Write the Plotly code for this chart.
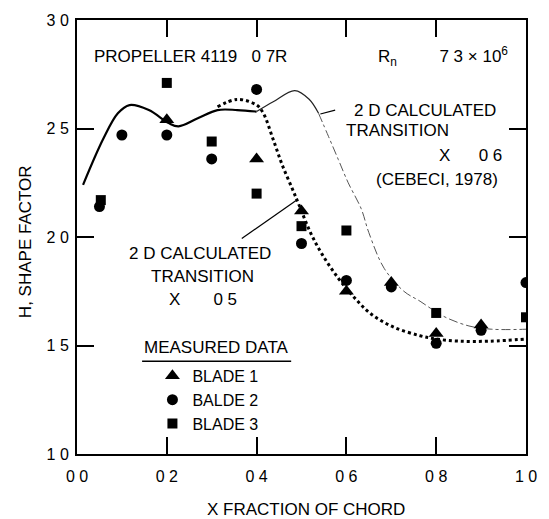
import plotly.graph_objects as go

# ---- data ----
blade1_x = [0.2, 0.4, 0.5, 0.6, 0.7, 0.8, 0.9]
blade1_y = [2.54, 2.36, 2.12, 1.75, 1.79, 1.555, 1.595]

blade2_x = [0.05, 0.1, 0.2, 0.3, 0.4, 0.5, 0.6, 0.7, 0.8, 0.9, 1.0]
blade2_y = [2.14, 2.47, 2.47, 2.36, 2.68, 1.97, 1.80, 1.77, 1.51, 1.57, 1.79]

blade3_x = [0.053, 0.2, 0.3, 0.4, 0.5, 0.6, 0.8, 1.0]
blade3_y = [2.17, 2.71, 2.44, 2.20, 2.05, 2.03, 1.65, 1.63]

# 2-D calculated, transition x = 0.6 (Cebeci 1978)
calc06_x = [0.0135, 0.058, 0.091, 0.117, 0.16, 0.204, 0.226, 0.269, 0.313, 0.357,
            0.40, 0.437, 0.485, 0.517, 0.538, 0.56, 0.582, 0.604, 0.633, 0.65,
            0.684, 0.728, 0.764, 0.815, 0.873, 0.924, 1.0]
calc06_y = [2.24, 2.45, 2.57, 2.608, 2.585, 2.525, 2.51, 2.547, 2.585, 2.585,
            2.578, 2.623, 2.675, 2.635, 2.57, 2.464, 2.357, 2.25, 2.13, 2.02,
            1.856, 1.75, 1.704, 1.636, 1.59, 1.575, 1.575]

# 2-D calculated, transition x = 0.5
calc05_x = [0.313, 0.357, 0.40, 0.415, 0.437, 0.458, 0.48, 0.495, 0.52, 0.546,
            0.582, 0.618, 0.655, 0.705, 0.764, 0.80, 0.85, 0.92, 1.0]
calc05_y = [2.60, 2.634, 2.608, 2.57, 2.449, 2.327, 2.22, 2.145, 2.02, 1.92,
            1.81, 1.72, 1.645, 1.585, 1.545, 1.53, 1.52, 1.52, 1.53]

x_ticks = [0.0, 0.2, 0.4, 0.6, 0.8, 1.0]
x_ticklabels = ["0 0", "0 2", "0 4", "0 6", "0 8", "1 0"]
y_ticks = [1.0, 1.5, 2.0, 2.5, 3.0]
y_ticklabels = ["1 0", "1 5", "2 0", "2 5", "3 0"]

FONT = "Liberation Sans, Arial, Helvetica, sans-serif"
NB = "\u00a0"

fig = go.Figure()

# solid thick part (up to x=0.40), thin solid, then dash-dot
i1 = calc06_x.index(0.40)
i2 = calc06_x.index(0.538)
fig.add_trace(go.Scatter(x=calc06_x[:i1 + 1], y=calc06_y[:i1 + 1], mode="lines",
                         line=dict(color="black", width=2.2, shape="spline"),
                         showlegend=False, hoverinfo="skip"))
fig.add_trace(go.Scatter(x=calc06_x[i1:i2 + 1], y=calc06_y[i1:i2 + 1], mode="lines",
                         line=dict(color="#222", width=1.2, shape="spline"),
                         showlegend=False, hoverinfo="skip"))
fig.add_trace(go.Scatter(x=calc06_x[i2:], y=calc06_y[i2:], mode="lines",
                         line=dict(color="#555", width=1, shape="spline", dash="dashdot"),
                         showlegend=False, hoverinfo="skip"))
fig.add_trace(go.Scatter(x=calc05_x, y=calc05_y, mode="lines",
                         line=dict(color="black", width=3, shape="spline", dash="dot"),
                         showlegend=False, hoverinfo="skip"))

fig.add_trace(go.Scatter(x=blade1_x, y=blade1_y, mode="markers", name="BLADE 1",
                         legendgroup="b1",
                         marker=dict(symbol="triangle-up", size=13, color="black")))
fig.add_trace(go.Scatter(x=blade2_x, y=blade2_y, mode="markers", name="BALDE 2",
                         legendgroup="b2",
                         marker=dict(symbol="circle", size=11, color="black")))
fig.add_trace(go.Scatter(x=blade3_x, y=blade3_y, mode="markers", name="BLADE 3",
                         legendgroup="b3",
                         marker=dict(symbol="square", size=10, color="black")))

axis_common = dict(showline=True, linewidth=2, linecolor="black", mirror="ticks",
                   ticks="inside", tickwidth=2, tickcolor="black", showgrid=False,
                   zeroline=False, tickfont=dict(family=FONT, size=16, color="black"))

fig.update_xaxes(range=[0, 1], tickvals=x_ticks, ticktext=x_ticklabels, ticklen=17,
                 ticklabelstandoff=7, **axis_common)
fig.update_yaxes(range=[1, 3], tickvals=y_ticks, ticktext=y_ticklabels, ticklen=17,
                 ticklabelstandoff=3, **axis_common)

ann = []
def txt(x, y, s, xanchor="left", size=17, xref="x", yref="y", angle=0):
    ann.append(dict(x=x, y=y, xref=xref, yref=yref, text=s, showarrow=False,
                    xanchor=xanchor, yanchor="middle", textangle=angle,
                    font=dict(family=FONT, size=size, color="black")))

txt(0.033, 2.83, "PROPELLER 4119" + NB * 3 + "0 7R")
txt(0.665, 2.83, "R<sub>n</sub>" + NB * 9 + "7 3 × 10<sup>6</sup>")

txt(0.612, 2.585, "2 D CALCULATED")
txt(0.594, 2.49, "TRANSITION")
txt(0.95, 2.374, "X" + NB * 6 + "0 6", xanchor="right")
txt(0.662, 2.265, "(CEBECI, 1978)")

txt(0.273, 1.924, "2 D CALCULATED", xanchor="center")
txt(0.28, 1.818, "TRANSITION", xanchor="center")
txt(0.2, 1.713, "X" + NB * 7 + "0 5")

txt(0.311, 1.491, "MEASURED DATA", xanchor="center")

txt(0.509, -0.129, "X FRACTION OF CHORD", xanchor="center", xref="paper", yref="paper")
txt(-0.115, 0.489, "H, SHAPE FACTOR", xanchor="center", xref="paper", yref="paper", angle=-90)

shapes = [
    dict(type="line", xref="x", yref="y", x0=0.367, y0=1.993, x1=0.488, y1=2.168,
         line=dict(color="black", width=1.2)),
    dict(type="line", xref="x", yref="y", x0=0.542, y0=2.567, x1=0.575, y1=2.585,
         line=dict(color="black", width=1.2)),
    dict(type="line", xref="x", yref="y", x0=0.145, y0=1.4275, x1=0.477, y1=1.4275,
         line=dict(color="black", width=1.5)),
]

fig.update_layout(
    width=549, height=519,
    margin=dict(l=77, r=14, t=16, b=65),
    paper_bgcolor="white", plot_bgcolor="white",
    annotations=ann, shapes=shapes,
    legend=dict(x=0.168, y=0.219, xanchor="left", yanchor="top",
                font=dict(family=FONT, size=16, color="black"),
                bgcolor="rgba(0,0,0,0)", borderwidth=0, tracegroupgap=0,
                itemsizing="trace"),
)

fig.write_html("out.html", config={"displayModeBar": False},
               post_script="document.body.style.margin='0';")
